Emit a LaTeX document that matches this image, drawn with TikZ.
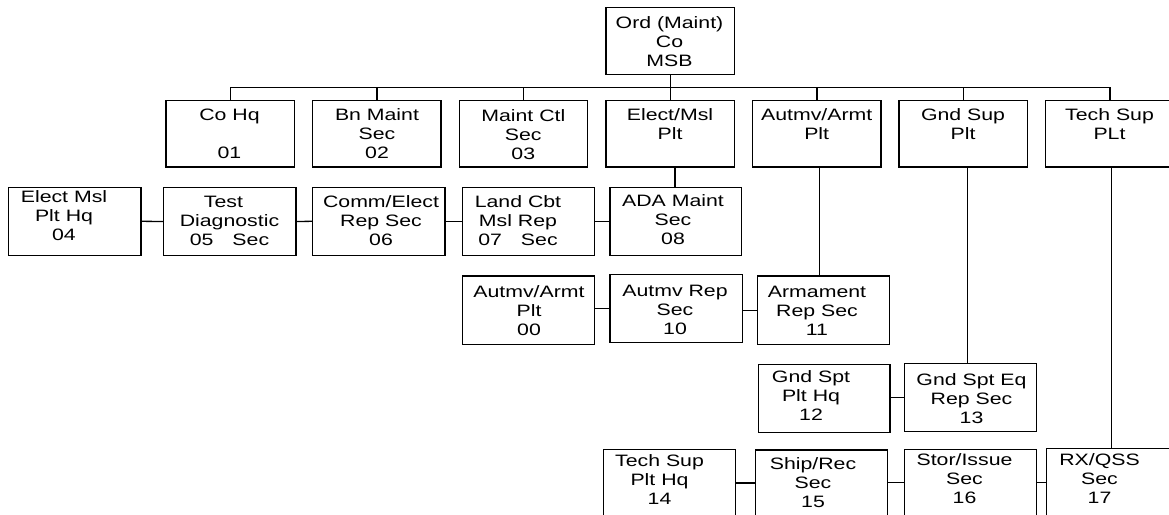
\documentclass[tikz,border=0pt]{standalone}
\usepackage{fontspec}
\setmainfont{Liberation Sans}[FakeStretch=1.29]
\usetikzlibrary{fit}
\newcommand\fst{\rule{0pt}{13pt}}
% name, x1, y1, x2, y2, text centre x, first baseline y, text
\newcommand\orgunit[8]{%
  \node[box, fit={(#2,#3) (#4,#5)}] (#1) {};
  \node[txt] (#1t) at (#6,#7-13) {\fst #8};}
\begin{document}
\begin{tikzpicture}[x=1pt,y=-1pt,
  box/.style={draw, line width=1.3pt, rectangle, inner sep=0pt, outer sep=0pt},
  txt/.style={anchor=north, inner sep=0pt, align=center, font=\fontsize{16.5}{19}\selectfont},
  link/.style={draw, line width=1.3pt}]
\useasboundingbox (0,0) rectangle (1169,514);
\clip (0,0) rectangle (1169,514);
\fill[white] (0,0) rectangle (1169,514);

\orgunit{ord}{606}{7.3}{734.7}{74.7}{669.5}{28}{Ord (Maint)\\Co\\MSB}
\orgunit{cohq}{166}{100.7}{294.5}{167}{229.5}{120.5}{Co Hq\\\mbox{}\\01}
\orgunit{bn}{312.7}{100.7}{441}{167}{377}{120.5}{Bn Maint\\Sec\\02}
\orgunit{mctl}{459.3}{100.7}{587.8}{167}{523.3}{121}{Maint Ctl\\Sec\\03}
\orgunit{elec}{606}{100.7}{734.7}{167}{670}{120.5}{Elect/Msl\\Plt}
\orgunit{autmv}{752.7}{100.7}{881}{167}{816.7}{120.5}{Autmv/Armt\\Plt}
\orgunit{gnd}{899}{100.7}{1027.3}{167}{963}{120.5}{Gnd Sup\\Plt}
\orgunit{tech}{1045.7}{100.7}{1174}{167}{1109.5}{120.5}{Tech Sup\\PLt}

\orgunit{h04}{8.3}{187.3}{141}{255.3}{64}{202.7}{Elect Msl\\Plt Hq\\04}
\orgunit{d05}{163.3}{187.3}{296}{255.7}{229.5}{207.5}{Test\kern12pt\\Diagnostic\\05\hspace{19pt}Sec}
\orgunit{c06}{312.7}{187.3}{445}{255.3}{381}{207}{Comm/Elect\\Rep Sec\\06}
\orgunit{l07}{462.7}{187.3}{594.3}{255.3}{518}{207.5}{Land Cbt\\Msl Rep\\07\hspace{19pt}Sec}
\orgunit{a08}{610}{187.3}{741.7}{255.3}{673}{206.5}{ADA Maint\\Sec\\08}

\orgunit{p00}{462.3}{276}{594.7}{344.3}{529}{297}{Autmv/Armt\\Plt\\00}
\orgunit{r10}{610}{274.3}{742.3}{342.3}{675}{296}{Autmv Rep\\Sec\\10}
\orgunit{r11}{757.3}{276}{889.7}{344.3}{817}{297}{Armament\\Rep Sec\\11}

\orgunit{g12}{758.3}{364.3}{890}{432.3}{811}{382.7}{Gnd Spt\\Plt Hq\\12}
\orgunit{g13}{904.7}{363.3}{1036.7}{431.7}{971.5}{385}{Gnd Spt Eq\\Rep Sec\\13}

\orgunit{t14}{603.3}{449.3}{735.7}{516}{659.5}{466.7}{Tech Sup\\Plt Hq\\14}
\orgunit{s15}{755.7}{450}{887.7}{516}{813}{469.3}{Ship/Rec\\Sec\\15}
\orgunit{s16}{904.3}{449.3}{1036.7}{516}{964.5}{465.3}{Stor/Issue\\Sec\\16}
\orgunit{x17}{1046.7}{448.3}{1175}{516}{1099.5}{465.3}{RX/QSS\\Sec\\17}

% top bus
\coordinate (bus) at (0,87.5);
\draw[link] (cohq.north) -- (cohq.north |- bus) -- (tech.north |- bus) -- (tech.north);
\foreach \n in {bn,mctl,elec,autmv,gnd}
  \draw[link] (\n.north) -- (\n.north |- bus);
\draw[link] (ord.south) -- (ord.south |- bus);

% verticals down from platoons
\draw[link] ([xshift=4.7pt]elec.south) -- ([xshift=4.7pt]elec.south |- a08.north);
\draw[link] ([xshift=2.9pt]autmv.south) -- ([xshift=2.9pt]autmv.south |- r11.north);
\draw[link] ([xshift=4.5pt]gnd.south) -- ([xshift=4.5pt]gnd.south |- g13.north);
\draw[link] ([xshift=1.9pt]tech.south) -- ([xshift=1.9pt]tech.south |- x17.north);

% row connectors
\draw[link] (h04.east) -- (d05.west);
\draw[link] (d05.east) -- (c06.west);
\draw[link] (c06.east) -- (l07.west);
\draw[link] (l07.east |- a08.west) -- (a08.west);
\draw[link] (p00.east |- r10.west) -- (r10.west);
\draw[link] (r10.east |- r11.west) -- (r11.west);
\draw[link] (g12.east |- g13.west) -- (g13.west);
\draw[link] (t14.east |- s15.west) -- (s15.west);
\draw[link] (s15.east |- s16.west) -- (s16.west);
\draw[link] (s16.east |- x17.west) -- (x17.west);
\end{tikzpicture}
\end{document}
